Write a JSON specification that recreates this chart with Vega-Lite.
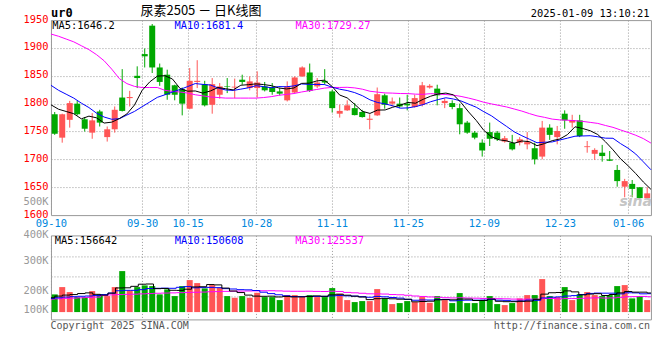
{
  "$schema": "https://vega.github.io/schema/vega-lite/v6.json",
  "background": "white",
  "padding": {"left": 21.96, "top": 4.1, "right": 5, "bottom": 5},
  "config": {
    "font": "DejaVu Sans Mono",
    "view": {"stroke": "#999999", "strokeWidth": 1},
    "axis": {"labelFont": "DejaVu Sans Mono", "labelOverlap": false, "labelBound": false},
    "text": {"font": "DejaVu Sans Mono"}
  },
  "bounds": "flush",
  "spacing": 20.3,
  "datasets": {
    "k": [
      {"d":"09-10","o":1781,"h":1785,"l":1744,"c":1746,"v":145100,"m5":1798,"m10":1833,"m30":1925,"vm5":117300,"vm10":112300,"vm30":106600},
      {"d":"09-11","o":1739,"h":1782,"l":1730,"c":1781,"v":205000,"m5":1790,"m10":1824,"m30":1921,"vm5":131200,"vm10":117300,"vm30":109100},
      {"d":"09-12","o":1771,"h":1805,"l":1757,"c":1801,"v":164000,"m5":1786,"m10":1817,"m30":1916,"vm5":139400,"vm10":123000,"vm30":112300},
      {"d":"09-13","o":1800,"h":1805,"l":1779,"c":1781,"v":123000,"m5":1782,"m10":1810,"m30":1911,"vm5":143500,"vm10":126300,"vm30":114800},
      {"d":"09-18","o":1772,"h":1776,"l":1750,"c":1755,"v":123000,"m5":1772.8,"m10":1801,"m30":1904,"vm5":152000,"vm10":129600,"vm30":117300},
      {"d":"09-19","o":1748,"h":1783,"l":1737,"c":1770,"v":172200,"m5":1777.6,"m10":1793,"m30":1897,"vm5":157400,"vm10":132000,"vm30":120500},
      {"d":"09-20","o":1786,"h":1789,"l":1759,"c":1766,"v":145100,"m5":1774.6,"m10":1783,"m30":1888,"vm5":145500,"vm10":135300,"vm30":123000},
      {"d":"09-23","o":1740,"h":1759,"l":1732,"c":1754,"v":131200,"m5":1765.2,"m10":1776,"m30":1877,"vm5":138900,"vm10":143500,"vm30":135300},
      {"d":"09-24","o":1754,"h":1795,"l":1748,"c":1789,"v":205000,"m5":1766.8,"m10":1772,"m30":1862,"vm5":155300,"vm10":155800,"vm30":141000},
      {"d":"09-25","o":1811,"h":1862,"l":1786,"c":1787,"v":336200,"m5":1773.2,"m10":1773,"m30":1845,"vm5":197900,"vm10":175000,"vm30":143500},
      {"d":"09-26","o":1810,"h":1823,"l":1795,"c":1812,"v":177900,"m5":1781.6,"m10":1779.6,"m30":1836,"vm5":199100,"vm10":178300,"vm30":145100},
      {"d":"09-27","o":1850,"h":1867,"l":1828,"c":1846,"v":205000,"m5":1797.6,"m10":1786.1,"m30":1831,"vm5":211100,"vm10":178300,"vm30":146800},
      {"d":"09-30","o":1889,"h":1899,"l":1865,"c":1885,"v":218900,"m5":1823.8,"m10":1794.5,"m30":1829,"vm5":228600,"vm10":183800,"vm30":149200},
      {"d":"10-08","o":1940,"h":1943,"l":1855,"c":1865,"v":213200,"m5":1839,"m10":1802.9,"m30":1829,"vm5":230300,"vm10":192800,"vm30":151700},
      {"d":"10-09","o":1865,"h":1872,"l":1832,"c":1839,"v":145100,"m5":1849.4,"m10":1811.3,"m30":1829,"vm5":192000,"vm10":195000,"vm30":154200},
      {"d":"10-10","o":1852,"h":1861,"l":1807,"c":1816,"v":186100,"m5":1850.2,"m10":1815.9,"m30":1824,"vm5":193700,"vm10":196400,"vm30":155800},
      {"d":"10-11","o":1833,"h":1834,"l":1806,"c":1816,"v":131200,"m5":1844.2,"m10":1820.9,"m30":1822,"vm5":178900,"vm10":195000,"vm30":157400},
      {"d":"10-14","o":1826,"h":1829,"l":1779,"c":1800,"v":213200,"m5":1827.2,"m10":1825.5,"m30":1821,"vm5":177800,"vm10":203200,"vm30":159100},
      {"d":"10-15","o":1791,"h":1864,"l":1790,"c":1841,"v":262400,"m5":1822.4,"m10":1830.7,"m30":1819,"vm5":187600,"vm10":208900,"vm30":160700},
      {"d":"10-16","o":1839,"h":1878,"l":1828,"c":1841,"v":237800,"m5":1822.8,"m10":1836.1,"m30":1816,"vm5":206100,"vm10":199100,"vm30":162400},
      {"d":"10-17","o":1835,"h":1841,"l":1795,"c":1797,"v":194300,"m5":1819,"m10":1834.6,"m30":1814,"vm5":207800,"vm10":200700,"vm30":164000},
      {"d":"10-18","o":1798,"h":1846,"l":1782,"c":1835,"v":221400,"m5":1822.8,"m10":1833.5,"m30":1812,"vm5":225800,"vm10":202400,"vm30":166500},
      {"d":"10-21","o":1816,"h":1837,"l":1809,"c":1831,"v":199300,"m5":1829,"m10":1828.1,"m30":1811,"vm5":223000,"vm10":200400,"vm30":168100},
      {"d":"10-22","o":1831,"h":1846,"l":1819,"c":1830,"v":131200,"m5":1826.8,"m10":1824.6,"m30":1810,"vm5":196800,"vm10":192200,"vm30":169700},
      {"d":"10-23","o":1829,"h":1845,"l":1810,"c":1830.5,"v":117300,"m5":1824.7,"m10":1823.8,"m30":1810,"vm5":172700,"vm10":189400,"vm30":171400},
      {"d":"10-24","o":1843,"h":1852,"l":1834,"c":1839,"v":131200,"m5":1833.1,"m10":1826.1,"m30":1810,"vm5":160100,"vm10":183900,"vm30":172200},
      {"d":"10-25","o":1828,"h":1849,"l":1824,"c":1840,"v":117300,"m5":1834.1,"m10":1828.5,"m30":1810,"vm5":139200,"vm10":182500,"vm30":173000},
      {"d":"10-28","o":1828,"h":1858,"l":1811,"c":1838,"v":158300,"m5":1835.5,"m10":1832.3,"m30":1810,"vm5":131000,"vm10":177000,"vm30":173800},
      {"d":"10-29","o":1831,"h":1839,"l":1822,"c":1824,"v":123000,"m5":1834.3,"m10":1830.6,"m30":1811,"vm5":129400,"vm10":163100,"vm30":174700},
      {"d":"10-30","o":1829,"h":1837,"l":1816,"c":1821,"v":123000,"m5":1832.4,"m10":1828.6,"m30":1812.6,"vm5":130500,"vm10":151600,"vm30":175200},
      {"d":"10-31","o":1822,"h":1828,"l":1815,"c":1818,"v":98400,"m5":1828.2,"m10":1830.7,"m30":1815,"vm5":124000,"vm10":142000,"vm30":173700},
      {"d":"11-01","o":1806,"h":1840,"l":1804,"c":1831,"v":139400,"m5":1826.4,"m10":1830.3,"m30":1816.6,"vm5":128400,"vm10":133800,"vm30":171500},
      {"d":"11-04","o":1820,"h":1849,"l":1819,"c":1847,"v":139400,"m5":1828.2,"m10":1831.9,"m30":1818.2,"vm5":124600,"vm10":127800,"vm30":170600},
      {"d":"11-05","o":1849,"h":1867,"l":1848,"c":1865,"v":123000,"m5":1836.4,"m10":1835.4,"m30":1821,"vm5":124600,"vm10":127000,"vm30":170600},
      {"d":"11-06","o":1856,"h":1872,"l":1821,"c":1823,"v":139400,"m5":1836.8,"m10":1834.6,"m30":1823.2,"vm5":127900,"vm10":129200,"vm30":171200},
      {"d":"11-07","o":1831,"h":1846,"l":1828,"c":1838,"v":123000,"m5":1840.8,"m10":1834.5,"m30":1825.5,"vm5":132800,"vm10":128400,"vm30":169600},
      {"d":"11-08","o":1841,"h":1862,"l":1834,"c":1838,"v":123000,"m5":1842.2,"m10":1834.3,"m30":1827.9,"vm5":129600,"vm10":129000,"vm30":168800},
      {"d":"11-11","o":1822,"h":1825,"l":1784,"c":1792,"v":196800,"m5":1831.2,"m10":1829.7,"m30":1829.2,"vm5":141000,"vm10":132800,"vm30":171100},
      {"d":"11-12","o":1782,"h":1798,"l":1775,"c":1787,"v":150100,"m5":1815.6,"m10":1826,"m30":1829.1,"vm5":146500,"vm10":135500,"vm30":169200},
      {"d":"11-13","o":1788,"h":1806,"l":1787,"c":1797,"v":98400,"m5":1810.4,"m10":1823.6,"m30":1829.4,"vm5":138300,"vm10":133100,"vm30":161300},
      {"d":"11-14","o":1792,"h":1801,"l":1779,"c":1779.5,"v":82000,"m5":1798.7,"m10":1819.8,"m30":1828.3,"vm5":130100,"vm10":131400,"vm30":158100},
      {"d":"11-15","o":1785,"h":1789,"l":1775,"c":1776,"v":90200,"m5":1786.3,"m10":1814.3,"m30":1826,"vm5":123500,"vm10":126500,"vm30":154200},
      {"d":"11-18","o":1771,"h":1781,"l":1754,"c":1773,"v":90200,"m5":1782.5,"m10":1806.9,"m30":1822.3,"vm5":102200,"vm10":121600,"vm30":150000},
      {"d":"11-19","o":1779,"h":1829,"l":1778,"c":1817,"v":188600,"m5":1788.5,"m10":1802.1,"m30":1820.7,"vm5":109900,"vm10":128200,"vm30":149200},
      {"d":"11-20","o":1815,"h":1818,"l":1791,"c":1798,"v":109100,"m5":1788.7,"m10":1799.6,"m30":1819.3,"vm5":112000,"vm10":125100,"vm30":147900},
      {"d":"11-21","o":1800,"h":1811,"l":1795,"c":1804,"v":65600,"m5":1793.6,"m10":1796.2,"m30":1818.9,"vm5":108700,"vm10":119400,"vm30":143900},
      {"d":"11-22","o":1800,"h":1811,"l":1792,"c":1795,"v":73800,"m5":1797.4,"m10":1791.9,"m30":1818.2,"vm5":105500,"vm10":114500,"vm30":142000},
      {"d":"11-25","o":1800,"h":1816,"l":1788,"c":1797,"v":90200,"m5":1802.2,"m10":1792.4,"m30":1818.1,"vm5":105500,"vm10":103800,"vm30":137900},
      {"d":"11-26","o":1794,"h":1816,"l":1793,"c":1810,"v":82000,"m5":1800.8,"m10":1794.7,"m30":1817.1,"vm5":84100,"vm10":97000,"vm30":131900},
      {"d":"11-27","o":1798,"h":1839,"l":1795,"c":1833,"v":123000,"m5":1807.8,"m10":1798.3,"m30":1816.8,"vm5":86900,"vm10":99500,"vm30":128100},
      {"d":"11-28","o":1829,"h":1835,"l":1827,"c":1832,"v":76300,"m5":1813.4,"m10":1803.5,"m30":1818,"vm5":89100,"vm10":98900,"vm30":124100},
      {"d":"11-29","o":1827,"h":1834,"l":1797,"c":1815,"v":131200,"m5":1817.4,"m10":1807.4,"m30":1817.3,"vm5":100500,"vm10":103000,"vm30":121100},
      {"d":"12-02","o":1801,"h":1809,"l":1792,"c":1805,"v":98400,"m5":1819,"m10":1810.6,"m30":1816.4,"vm5":102200,"vm10":103800,"vm30":117800},
      {"d":"12-03","o":1801,"h":1806,"l":1790,"c":1794,"v":73800,"m5":1815.8,"m10":1808.3,"m30":1815.2,"vm5":100500,"vm10":92300,"vm30":115900},
      {"d":"12-04","o":1792,"h":1800,"l":1745,"c":1763,"v":155800,"m5":1801.8,"m10":1804.8,"m30":1813,"vm5":107100,"vm10":97000,"vm30":117100},
      {"d":"12-05","o":1766,"h":1769,"l":1746,"c":1748,"v":73800,"m5":1785,"m10":1799.2,"m30":1810,"vm5":106600,"vm10":97800,"vm30":115200},
      {"d":"12-06","o":1748,"h":1751,"l":1736,"c":1739,"v":73800,"m5":1769.8,"m10":1793.6,"m30":1806.6,"vm5":95100,"vm10":97800,"vm30":113700},
      {"d":"12-09","o":1730,"h":1736,"l":1705,"c":1716,"v":98400,"m5":1752,"m10":1785.5,"m30":1802.5,"vm5":95100,"vm10":98600,"vm30":111800},
      {"d":"12-10","o":1749,"h":1766,"l":1724,"c":1737,"v":131200,"m5":1740.6,"m10":1778.2,"m30":1799.6,"vm5":106600,"vm10":103600,"vm30":112000},
      {"d":"12-11","o":1748,"h":1751,"l":1733,"c":1736,"v":65600,"m5":1735.2,"m10":1768.5,"m30":1796.8,"vm5":88600,"vm10":97800,"vm30":110100},
      {"d":"12-12","o":1732,"h":1742,"l":1730,"c":1738,"v":57400,"m5":1733.2,"m10":1759.1,"m30":1794.1,"vm5":85300,"vm10":95900,"vm30":108700},
      {"d":"12-13","o":1730,"h":1744,"l":1716,"c":1718,"v":73800,"m5":1729,"m10":1749.4,"m30":1790.4,"vm5":85300,"vm10":90200,"vm30":106600},
      {"d":"12-16","o":1730,"h":1740,"l":1725,"c":1736,"v":112300,"m5":1733,"m10":1742.5,"m30":1786.7,"vm5":88100,"vm10":91600,"vm30":105700},
      {"d":"12-17","o":1727,"h":1749,"l":1718,"c":1731,"v":139400,"m5":1731.8,"m10":1736.2,"m30":1782.2,"vm5":89700,"vm10":98200,"vm30":106200},
      {"d":"12-18","o":1720,"h":1730,"l":1691,"c":1700,"v":139400,"m5":1724.6,"m10":1729.9,"m30":1778.1,"vm5":104500,"vm10":96500,"vm30":106200},
      {"d":"12-19","o":1705,"h":1769,"l":1700,"c":1757,"v":270600,"m5":1728.4,"m10":1730.8,"m30":1775.4,"vm5":147100,"vm10":116200,"vm30":111100},
      {"d":"12-20","o":1757,"h":1763,"l":1735,"c":1744,"v":131200,"m5":1733.6,"m10":1731.3,"m30":1772.3,"vm5":158600,"vm10":121900,"vm30":111400},
      {"d":"12-23","o":1740,"h":1760,"l":1727,"c":1751,"v":123000,"m5":1736.6,"m10":1734.8,"m30":1770.9,"vm5":160700,"vm10":124400,"vm30":109000},
      {"d":"12-24","o":1782,"h":1788,"l":1755,"c":1770,"v":205000,"m5":1744.4,"m10":1738.1,"m30":1770.3,"vm5":173800,"vm10":131800,"vm30":110800},
      {"d":"12-25","o":1766,"h":1780,"l":1757,"c":1770.5,"v":98400,"m5":1758.5,"m10":1741.6,"m30":1769.4,"vm5":165600,"vm10":135100,"vm30":110800},
      {"d":"12-26","o":1770,"h":1780,"l":1740,"c":1742,"v":147600,"m5":1755.5,"m10":1742,"m30":1768.2,"vm5":141000,"vm10":144100,"vm30":113000},
      {"d":"12-27","o":1722,"h":1733,"l":1712,"c":1723.5,"v":164000,"m5":1751.4,"m10":1742.5,"m30":1766.4,"vm5":147600,"vm10":153100,"vm30":115500},
      {"d":"12-30","o":1710,"h":1720,"l":1699,"c":1717,"v":139400,"m5":1744.6,"m10":1740.6,"m30":1764.6,"vm5":150900,"vm10":155800,"vm30":117100},
      {"d":"12-31","o":1712,"h":1726,"l":1696,"c":1706,"v":131200,"m5":1731.8,"m10":1738.1,"m30":1760.9,"vm5":136100,"vm10":155000,"vm30":115100},
      {"d":"01-02","o":1700,"h":1715,"l":1697,"c":1697.5,"v":139400,"m5":1717.2,"m10":1737.9,"m30":1757.5,"vm5":144300,"vm10":155000,"vm30":116200},
      {"d":"01-03","o":1681,"h":1690,"l":1651,"c":1661,"v":213200,"m5":1701,"m10":1728.3,"m30":1752.8,"vm5":157400,"vm10":149200,"vm30":121100},
      {"d":"01-06","o":1651,"h":1665,"l":1632,"c":1661,"v":221400,"m5":1688.5,"m10":1720,"m30":1748.3,"vm5":168900,"vm10":158300,"vm30":126000},
      {"d":"01-07","o":1656,"h":1663,"l":1632,"c":1647,"v":112300,"m5":1674.5,"m10":1709.6,"m30":1743.3,"vm5":163500,"vm10":157200,"vm30":126800},
      {"d":"01-08","o":1650,"h":1650,"l":1630,"c":1630.5,"v":131200,"m5":1659.4,"m10":1695.6,"m30":1737.3,"vm5":163500,"vm10":149800,"vm30":128400},
      {"d":"01-09","o":1630.5,"h":1650,"l":1630,"c":1639,"v":98400,"m5":1646.2,"m10":1681.4,"m30":1729.27,"vm5":156642,"vm10":150608,"vm30":125537}
    ]
  },
  "vconcat": [
    {
      "width": 600,
      "height": 195,
      "data": {"name": "k"},
      "layer": [
        {
          "encoding": {
            "x": {"field": "d", "type": "ordinal", "scale": {"type": "band", "paddingInner": 0, "paddingOuter": 0, "domain": ["09-10","09-11","09-12","09-13","09-18","09-19","09-20","09-23","09-24","09-25","09-26","09-27","09-30","10-08","10-09","10-10","10-11","10-14","10-15","10-16","10-17","10-18","10-21","10-22","10-23","10-24","10-25","10-28","10-29","10-30","10-31","11-01","11-04","11-05","11-06","11-07","11-08","11-11","11-12","11-13","11-14","11-15","11-18","11-19","11-20","11-21","11-22","11-25","11-26","11-27","11-28","11-29","12-02","12-03","12-04","12-05","12-06","12-09","12-10","12-11","12-12","12-13","12-16","12-17","12-18","12-19","12-20","12-23","12-24","12-25","12-26","12-27","12-30","12-31","01-02","01-03","01-06","01-07","01-08","01-09"]}, "axis": null},
            "color": {"condition": {"test": "datum.c >= datum.o", "value": "#ff5555"}, "value": "#00a800"}
          },
          "layer": [
            {
              "mark": {"type": "rule", "strokeWidth": 1},
              "encoding": {
                "y": {"field": "l", "type": "quantitative", "scale": {"domain": [1600, 1950], "zero": false, "nice": false},
                  "axis": {"values": [1600, 1622, 1650, 1700, 1750, 1800, 1850, 1900, 1950], "format": "d", "tickCount": 30,
                    "labelExpr": "datum.value == 1622 ? '500K' : datum.label",
                    "labelColor": {"condition": {"test": "datum.value == 1622", "value": "#999999"}, "value": "#ff0000"},
                    "gridOpacity": {"condition": {"test": "datum.value == 1622 || datum.value == 1600 || datum.value == 1950", "value": 0}, "value": 1},
                    "grid": true, "gridColor": "#999999", "gridDash": [1, 2], "domain": false, "ticks": false,
                    "labelPadding": 3, "labelFontSize": 10.4, "labelOffset": -1, "labelOverlap": false, "labelBound": false, "labelFlush": false, "title": null}},
                "y2": {"field": "h"}
              }
            },
            {
              "mark": {"type": "bar", "width": {"band": 0.8}},
              "encoding": {
                "y": {"field": "o", "type": "quantitative", "scale": {"domain": [1600, 1950], "zero": false, "nice": false}},
                "y2": {"field": "c"}
              }
            }
          ]
        },
        {
          "encoding": {
            "x": {"field": "d", "type": "ordinal", "scale": {"type": "point", "padding": 0, "domain": ["09-10","09-11","09-12","09-13","09-18","09-19","09-20","09-23","09-24","09-25","09-26","09-27","09-30","10-08","10-09","10-10","10-11","10-14","10-15","10-16","10-17","10-18","10-21","10-22","10-23","10-24","10-25","10-28","10-29","10-30","10-31","11-01","11-04","11-05","11-06","11-07","11-08","11-11","11-12","11-13","11-14","11-15","11-18","11-19","11-20","11-21","11-22","11-25","11-26","11-27","11-28","11-29","12-02","12-03","12-04","12-05","12-06","12-09","12-10","12-11","12-12","12-13","12-16","12-17","12-18","12-19","12-20","12-23","12-24","12-25","12-26","12-27","12-30","12-31","01-02","01-03","01-06","01-07","01-08","01-09"]},
              "axis": {"values": ["09-10","09-30","10-15","10-28","11-11","11-25","12-09","12-23","01-06"], "labelColor": "#0088dd", "labelFontSize": 10.4, "labelPadding": 3, "labelAngle": 0,
                "grid": true, "gridColor": "#999999", "gridDash": [1, 2], "domain": false, "ticks": false, "title": null, "labelOverlap": false, "labelBound": false}}
          },
          "layer": [
            {"mark": {"type": "line", "color": "#ff00ff", "strokeWidth": 1}, "encoding": {"y": {"field": "m30", "type": "quantitative", "scale": {"domain": [1600, 1950], "zero": false, "nice": false}}}},
            {"mark": {"type": "line", "color": "#0000ff", "strokeWidth": 1}, "encoding": {"y": {"field": "m10", "type": "quantitative", "scale": {"domain": [1600, 1950], "zero": false, "nice": false}}}},
            {"mark": {"type": "line", "color": "#000000", "strokeWidth": 1}, "encoding": {"y": {"field": "m5", "type": "quantitative", "scale": {"domain": [1600, 1950], "zero": false, "nice": false}}}},
            {"data": {"values": [{"t": "MA5:1646.2"}]}, "mark": {"type": "text", "align": "left", "baseline": "top", "dx": 1.2, "dy": 1.3, "fontSize": 10.4, "color": "#000000"},
              "encoding": {"text": {"field": "t"}, "x": {"datum": "09-10", "type": "ordinal"}, "y": {"datum": 1950, "type": "quantitative"}}},
            {"data": {"values": [{"t": "MA10:1681.4"}]}, "mark": {"type": "text", "align": "left", "baseline": "top", "dx": 2, "dy": 1.3, "fontSize": 10.4, "color": "#0000ff"},
              "encoding": {"text": {"field": "t"}, "x": {"datum": "10-11", "type": "ordinal"}, "y": {"datum": 1950, "type": "quantitative"}}},
            {"data": {"values": [{"t": "MA30:1729.27"}]}, "mark": {"type": "text", "align": "left", "baseline": "top", "dx": 1.5, "dy": 1.3, "fontSize": 10.4, "color": "#ff00ff"},
              "encoding": {"text": {"field": "t"}, "x": {"datum": "11-04", "type": "ordinal"}, "y": {"datum": 1950, "type": "quantitative"}}},
            {"data": {"values": [{"t": "ur0"}]}, "mark": {"type": "text", "align": "left", "baseline": "top", "dx": 0, "dy": -11.7, "fontSize": 12, "fontWeight": "bold", "color": "#000000"},
              "encoding": {"text": {"field": "t"}, "x": {"datum": "09-10", "type": "ordinal"}, "y": {"datum": 1950, "type": "quantitative"}}},
            {"data": {"values": [{"t": "尿素2505 － 日K线图"}]}, "mark": {"type": "text", "align": "left", "baseline": "top", "dx": -1.6, "dy": -14.9, "fontSize": 13, "font": "Noto Sans CJK SC", "color": "#000000"},
              "encoding": {"text": {"field": "t"}, "x": {"datum": "09-30", "type": "ordinal"}, "y": {"datum": 1950, "type": "quantitative"}}},
            {"data": {"values": [{"t": "2025-01-09 13:10:21"}]}, "mark": {"type": "text", "align": "right", "baseline": "top", "dx": -1.5, "dy": -11.1, "fontSize": 10.4, "color": "#000000"},
              "encoding": {"text": {"field": "t"}, "x": {"datum": "01-09", "type": "ordinal"}, "y": {"datum": 1950, "type": "quantitative"}}},
            {"data": {"values": [{"t": "sina"}]}, "mark": {"type": "text", "align": "right", "baseline": "alphabetic", "dx": 1, "dy": -9, "fontSize": 14, "font": "DejaVu Sans", "fontStyle": "italic", "fontWeight": "bold", "color": "#bbbbbb", "opacity": 0.85},
              "encoding": {"text": {"field": "t"}, "x": {"datum": "01-09", "type": "ordinal"}, "y": {"datum": 1600, "type": "quantitative"}}}
          ]
        }
      ],
      "resolve": {"scale": {"x": "independent"}, "axis": {"x": "independent"}}
    },
    {
      "width": 600,
      "height": 84,
      "data": {"name": "k"},
      "layer": [
        {
          "mark": {"type": "bar", "width": {"band": 0.8}},
          "encoding": {
            "x": {"field": "d", "type": "ordinal", "scale": {"type": "band", "paddingInner": 0, "paddingOuter": 0, "domain": ["09-10","09-11","09-12","09-13","09-18","09-19","09-20","09-23","09-24","09-25","09-26","09-27","09-30","10-08","10-09","10-10","10-11","10-14","10-15","10-16","10-17","10-18","10-21","10-22","10-23","10-24","10-25","10-28","10-29","10-30","10-31","11-01","11-04","11-05","11-06","11-07","11-08","11-11","11-12","11-13","11-14","11-15","11-18","11-19","11-20","11-21","11-22","11-25","11-26","11-27","11-28","11-29","12-02","12-03","12-04","12-05","12-06","12-09","12-10","12-11","12-12","12-13","12-16","12-17","12-18","12-19","12-20","12-23","12-24","12-25","12-26","12-27","12-30","12-31","01-02","01-03","01-06","01-07","01-08","01-09"]}, "axis": null},
            "y": {"field": "v", "type": "quantitative", "scale": {"domain": [-60000, 629000], "zero": false, "nice": false},
              "axis": {"values": [14000, 125000, 172000, 289000, 412000, 453000, 628000], "tickCount": 30,
                "labelExpr": "datum.value == 14000 ? '100K' : datum.value == 172000 ? '200K' : datum.value == 412000 ? '300K' : datum.value == 628000 ? '400K' : ''",
                "labelColor": "#999999",
                "gridOpacity": {"condition": {"test": "datum.value == 125000 || datum.value == 289000 || datum.value == 453000", "value": 1}, "value": 0},
                "grid": true, "gridColor": "#999999", "gridDash": [1, 2], "domain": false, "ticks": false,
                "labelPadding": 3, "labelFontSize": 10.4, "labelOffset": -1, "labelOverlap": false, "labelBound": false, "labelFlush": false, "title": null}},
            "color": {"condition": {"test": "datum.c >= datum.o", "value": "#ff5555"}, "value": "#00a800"}
          }
        },
        {
          "encoding": {
            "x": {"field": "d", "type": "ordinal", "scale": {"type": "point", "padding": 0, "domain": ["09-10","09-11","09-12","09-13","09-18","09-19","09-20","09-23","09-24","09-25","09-26","09-27","09-30","10-08","10-09","10-10","10-11","10-14","10-15","10-16","10-17","10-18","10-21","10-22","10-23","10-24","10-25","10-28","10-29","10-30","10-31","11-01","11-04","11-05","11-06","11-07","11-08","11-11","11-12","11-13","11-14","11-15","11-18","11-19","11-20","11-21","11-22","11-25","11-26","11-27","11-28","11-29","12-02","12-03","12-04","12-05","12-06","12-09","12-10","12-11","12-12","12-13","12-16","12-17","12-18","12-19","12-20","12-23","12-24","12-25","12-26","12-27","12-30","12-31","01-02","01-03","01-06","01-07","01-08","01-09"]},
              "axis": {"values": ["09-10","09-30","10-15","10-28","11-11","11-25","12-09","12-23","01-06"], "labels": false,
                "grid": true, "gridColor": "#999999", "gridDash": [1, 2], "domain": false, "ticks": false, "title": null}}
          },
          "layer": [
            {"mark": {"type": "line", "color": "#ff00ff", "strokeWidth": 1, "interpolate": "step"}, "encoding": {"y": {"field": "vm30", "type": "quantitative", "scale": {"domain": [-60000, 629000], "zero": false, "nice": false}}}},
            {"mark": {"type": "line", "color": "#0000ff", "strokeWidth": 1, "interpolate": "step"}, "encoding": {"y": {"field": "vm10", "type": "quantitative", "scale": {"domain": [-60000, 629000], "zero": false, "nice": false}}}},
            {"mark": {"type": "line", "color": "#000000", "strokeWidth": 1, "interpolate": "step"}, "encoding": {"y": {"field": "vm5", "type": "quantitative", "scale": {"domain": [-60000, 629000], "zero": false, "nice": false}}}},
            {"data": {"values": [{"t": "MA5:156642"}]}, "mark": {"type": "text", "align": "left", "baseline": "top", "dx": 3.8, "dy": 0.3, "fontSize": 10.4, "color": "#000000"},
              "encoding": {"text": {"field": "t"}, "x": {"datum": "09-10", "type": "ordinal"}, "y": {"datum": 629000, "type": "quantitative"}}},
            {"data": {"values": [{"t": "MA10:150608"}]}, "mark": {"type": "text", "align": "left", "baseline": "top", "dx": 2.3, "dy": 0.3, "fontSize": 10.4, "color": "#0000ff"},
              "encoding": {"text": {"field": "t"}, "x": {"datum": "10-11", "type": "ordinal"}, "y": {"datum": 629000, "type": "quantitative"}}},
            {"data": {"values": [{"t": "MA30:125537"}]}, "mark": {"type": "text", "align": "left", "baseline": "top", "dx": 1.2, "dy": 0.3, "fontSize": 10.4, "color": "#ff00ff"},
              "encoding": {"text": {"field": "t"}, "x": {"datum": "11-04", "type": "ordinal"}, "y": {"datum": 629000, "type": "quantitative"}}},
            {"data": {"values": [{"t": "Copyright 2025 SINA.COM"}]}, "mark": {"type": "text", "align": "left", "baseline": "top", "dx": -0.5, "dy": 2, "fontSize": 10, "color": "#555555"},
              "encoding": {"text": {"field": "t"}, "x": {"datum": "09-10", "type": "ordinal"}, "y": {"datum": -60000, "type": "quantitative"}}},
            {"data": {"values": [{"t": "http://finance.sina.com.cn"}]}, "mark": {"type": "text", "align": "right", "baseline": "top", "dx": -1, "dy": 2, "fontSize": 10, "color": "#555555"},
              "encoding": {"text": {"field": "t"}, "x": {"datum": "01-09", "type": "ordinal"}, "y": {"datum": -60000, "type": "quantitative"}}}
          ]
        }
      ],
      "resolve": {"scale": {"x": "independent"}, "axis": {"x": "independent"}}
    }
  ]
}
